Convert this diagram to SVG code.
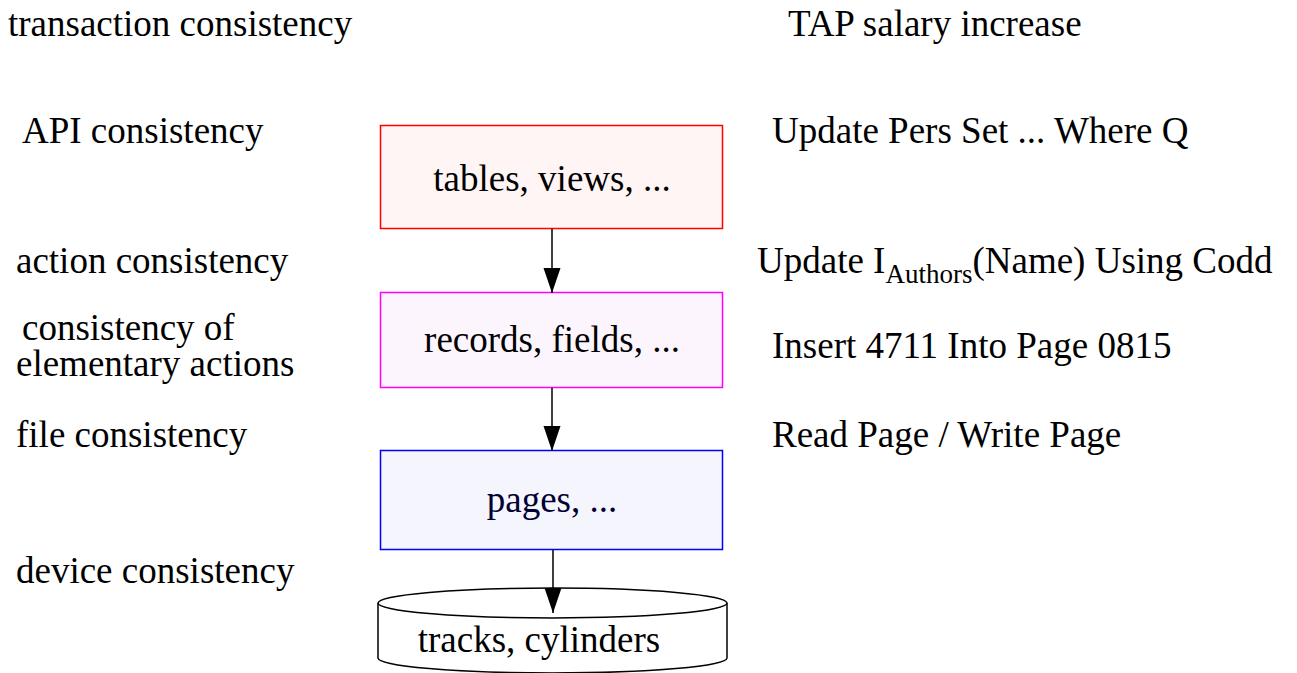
<svg xmlns="http://www.w3.org/2000/svg" width="1297" height="673" viewBox="0 0 1297 673">
<defs>
<style>
text{font-family:"Liberation Serif","Times New Roman",serif;font-size:37px;fill:#000}
.c{text-anchor:middle}
.box{stroke-width:1.5}
.edge{stroke:#000;stroke-width:1.5;fill:none}
</style>
<marker id="arr" markerWidth="25" markerHeight="18" refX="25" refY="9" orient="auto" markerUnits="userSpaceOnUse">
<path d="M0,0.5 L25,9 L0,17.5 Z" fill="#000"/>
</marker>
</defs>
<rect width="1297" height="673" fill="#fff"/>
<g id="labels-left">
<text x="8" y="36">transaction consistency</text>
<text x="22" y="143">API consistency</text>
<text x="16" y="273">action consistency</text>
<text x="22" y="340">consistency of</text>
<text x="16" y="376">elementary actions</text>
<text x="16" y="447">file consistency</text>
<text x="16" y="583">device consistency</text>
</g>
<g id="labels-right">
<text x="788" y="36">TAP salary increase</text>
<text x="772" y="143">Update Pers Set ... Where Q</text>
<text x="757" y="273">Update I<tspan dy="10" font-size="27">Authors</tspan><tspan dy="-10">(Name) Using Codd</tspan></text>
<text x="772" y="358">Insert 4711 Into Page 0815</text>
<text x="772" y="447">Read Page / Write Page</text>
</g>
<g id="node-tables">
<rect class="box" x="380.5" y="125.5" width="342" height="103" fill="#fff5f5" stroke="#ff0000"/>
<text class="c" x="552" y="191">tables, views, ...</text>
</g>
<g id="node-records">
<rect class="box" x="380.5" y="292.5" width="342" height="95" fill="#fdf5fd" stroke="#ff00ff"/>
<text class="c" x="552" y="352">records, fields, ...</text>
</g>
<g id="node-pages">
<rect class="box" x="380.5" y="450.5" width="342" height="99" fill="#f5f5fd" stroke="#0000ff"/>
<text class="c" x="552" y="512" style="fill:#000033">pages, ...</text>
</g>
<g id="node-tracks">
<path d="M378,603 L378,658 A174.5,15 0 0 0 727,658 L727,603" fill="#fff" stroke="#000" stroke-width="1.5"/>
<ellipse cx="552.5" cy="603" rx="174.5" ry="15" fill="#fff" stroke="#000" stroke-width="1.5"/>
<text class="c" x="539" y="652">tracks, cylinders</text>
</g>
<g id="connectors">
<line class="edge" x1="552" y1="229" x2="552" y2="293" marker-end="url(#arr)"/>
<line class="edge" x1="552" y1="388" x2="552" y2="451" marker-end="url(#arr)"/>
<line class="edge" x1="553" y1="550" x2="553" y2="613" marker-end="url(#arr)"/>
</g>
</svg>
